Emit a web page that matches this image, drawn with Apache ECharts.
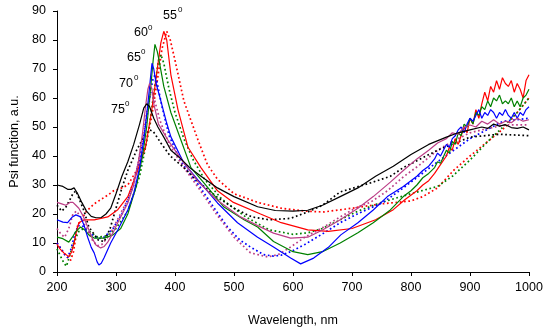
<!DOCTYPE html>
<html>
<head>
<meta charset="utf-8">
<script src="https://cdn.jsdelivr.net/npm/echarts@6/dist/echarts.min.js"></script>
<style>
html,body{margin:0;padding:0;background:#fff;}
#chart{width:550px;height:332px;}
</style>
</head>
<body>
<div id="chart"></div>
<script>
// x ticks / y ticks
const xTicks = [200, 300, 400, 500, 600, 700, 800, 900, 1000];
const yTicks = [0, 10, 20, 30, 40, 50, 60, 70, 80, 90];
const angleLabels = ['55', '60', '65', '70', '75'];

// 55 deg experiment (red solid)
const exp55 = [[200,9.5],[205,8],[212,6.5],[220,5.3],[225,7],[229,10],[233,14],[237,17],[246,18],[263,18],[286,19],[303,21.5],[320,26],[335,34],[345,40],[350,43],[360,55],[368,67],[376,79],[381,83],[386,80],[393,68],[405,56],[422,43],[444,36],[472,28],[499,24],[545,20],[580,17],[625,14.5],[660,14],[700,15],[740,18],[770,21.5],[790,25],[810,28],[820,30],[830,31.5],[840,34],[850,37],[860,40],[865,43],[870,42],[875,46],[880,44],[890,50],[895,48],[900,53],[905,51],[910,56],[915,53],[920,58],[925,62],[930,59],[935,64],[940,62],[945,66],[950,63],[955,67],[960,65],[965,64],[970,66],[975,62],[980,65],[985,63],[990,60],[995,66],[1000,68]];
// 55 deg model (red dotted)
const mod55 = [[200,10],[210,7],[218,5],[223,4],[228,7],[235,16],[241,18],[250,21],[263,23.5],[286,26.5],[296,28],[310,29],[320,30],[335,35],[350,44],[360,53],[370,66],[378,77],[386,83],[392,80],[400,73],[415,59],[439,45.5],[455,37],[472,32],[500,27],[540,24],[580,22],[620,21],[652,20.7],[700,22],[750,23.5],[800,24.5],[820,26],[845,29],[872,35],[900,40],[930,45],[960,50],[980,55],[1000,60]];
// 60 deg experiment (green solid)
const exp60 = [[200,12],[210,11.5],[220,10.3],[226,12],[232,14],[240,15.5],[247,14.5],[254,12.8],[263,11.7],[280,11.7],[295,12.8],[308,15],[320,20],[335,30],[345,40],[352,50],[358,62],[363,73],[366,78.5],[370,76],[373,73],[381,64],[393,55],[410,45.5],[427,36],[449,30.7],[483,22.4],[517,18],[540,15.5],[567,10.5],[600,7],[625,6],[650,7],[680,10],[710,13.5],[736,17],[765,21.4],[787,26],[800,28],[810,30],[820,32.5],[830,34],[840,36],[845,38],[850,37.5],[860,42],[865,41],[870,45],[875,44],[880,48],[885,47],[890,51],[895,50],[900,53],[905,51],[910,55],[915,54],[920,57],[925,56],[930,59],[935,57],[940,60],[945,59],[950,61],[955,58],[960,59],[965,58],[970,60],[975,57],[980,59],[985,57],[990,60],[995,61],[1000,63]];
// 60 deg model (green dotted)
const mod60 = [[200,8],[207,5],[212,3],[216,2],[222,6],[230,11],[237,14],[245,15],[255,14],[269,12],[285,12.5],[300,15],[320,21],[340,33],[355,48],[365,63],[372,73],[376,75],[381,72],[390,63],[400,55],[415,46],[430,39],[450,32],[480,25],[520,19],[560,14.5],[600,13],[625,13.5],[650,15],[680,18],[710,21],[750,24],[800,27],[845,29.5],[870,33],[900,38.6],[930,45],[956,50],[980,55],[1000,60]];
// 65 deg experiment (blue solid)
const exp65 = [[200,18],[210,17.2],[218,17],[226,19],[232,19.7],[240,19],[246,16],[252,12],[258,8.5],[263,6.6],[268,3.5],[271,2.4],[275,3],[280,5],[291,10],[303,14.5],[320,21.4],[330,27],[340,36],[348,47],[354,58],[358,66],[361,72],[364,70],[368,65],[376,59],[385,52],[393,46.6],[415,37.6],[439,31.7],[472,23.8],[506,17],[540,12],[567,8.6],[596,4.8],[613,2.8],[635,4.8],[660,8.5],[681,12.8],[710,17],[736,21.4],[760,26],[787,29.5],[810,33],[820,35],[830,36.5],[840,39],[845,41],[850,40],[860,44],[865,43],[870,46],[875,47],[880,49],[885,50],[890,48],[895,51],[900,53],[905,52],[910,54],[915,56],[920,53],[925,55],[930,54],[935,56],[940,55],[945,53],[950,55],[955,54],[960,56],[965,54],[970,53],[975,55],[980,53],[985,55],[990,54],[995,56],[1000,57]];
// 65 deg model (blue dotted)
const mod65 = [[200,10],[207,8],[213,6],[218,5],[224,8],[230,13],[236,16],[243,16],[252,14],[262,12.5],[270,11.5],[280,12],[295,15],[310,20],[330,30],[345,44],[355,57],[362,66],[366,68],[370,65],[378,57],[390,47],[410,38],[440,30],[470,21],[489,15.5],[510,11],[528,8.6],[550,6],[567,5.5],[580,5.8],[596,7],[620,9.5],[652,13.4],[680,17],[709,20],[753,24],[787,29],[845,38],[900,46],[956,52],[1000,53]];
// 70 deg experiment (magenta solid)
const exp70 = [[200,24],[208,23.5],[215,23],[222,24],[227,24],[232,23],[237,22],[245,19],[252,15.5],[260,11.5],[266,9.3],[274,8.3],[280,8.8],[286,10.3],[295,13.5],[303,17],[320,23.8],[330,30],[338,38],[345,48],[350,57],[354,63],[357,65],[361,63],[364,58],[372,51],[388,45.5],[415,37.6],[440,31],[470,25],[511,19],[540,16],[567,13.4],[596,11.7],[625,12],[650,14.5],[680,18],[710,22],[736,26],[765,31],[787,35],[810,39],[830,42],[845,44.5],[860,46],[870,48],[880,47.5],[890,50],[900,50.7],[910,50],[920,52],[930,51],[940,52.5],[950,51],[960,52],[970,51.5],[980,53],[990,52],[1000,52.5]];
// 70 deg model (magenta dotted)
const mod70 = [[200,15],[207,13],[213,12],[220,15],[227,20],[233,21],[240,19],[250,15],[260,11],[268,9],[276,9.5],[290,13],[305,19],[320,25],[335,35],[345,46],[352,55],[358,61],[362,62],[367,58],[375,52],[390,44],[415,36],[440,29],[470,20],[500,12],[528,6.6],[557,5.2],[575,6],[596,8.6],[620,12],[652,15.5],[680,19],[709,22.4],[731,24],[760,28],[787,32.8],[815,37],[845,42],[870,45],[900,48],[930,49.5],[960,50.7],[1000,50.7]];
// 75 deg experiment (black solid)
const exp75 = [[200,30],[210,29.5],[218,28.5],[224,28.5],[229,29],[235,27],[242,24],[250,21],[258,19.2],[266,18.7],[275,18.8],[283,20],[291,22],[300,27],[310,33],[320,38],[330,44],[340,51],[347,56.5],[352,58],[357,57],[364,53],[371,50],[381,46.5],[393,42],[410,39],[425,36],[444,33],[472,29],[500,26],[540,22.5],[570,21.2],[600,21],[625,21.3],[650,23],[680,26],[710,29],[740,33],[770,36.5],[800,40.5],[830,44],[860,46.5],[880,48],[900,49],[920,50],[930,49.5],[940,51],[950,50.3],[960,50.8],[970,49.8],[980,49.5],[990,50],[1000,49]];
// 75 deg model (black dotted)
const mod75 = [[200,23],[208,21],[215,22.4],[222,25],[227,27],[232,28],[238,25],[246,21],[254,15.5],[263,13],[270,11],[280,10.5],[290,15],[300,22],[310,29],[320,35],[335,42],[348,47],[357,49],[363,48.5],[376,44.5],[392,40],[415,36],[440,31],[470,26],[500,22],[530,19],[560,18],[596,18.5],[625,20.7],[650,23],[680,27.6],[731,30.7],[765,33],[787,36],[845,42],[900,46.5],[950,47.5],[1000,47]];

const colors = ['#FF0000', '#008000', '#0000FF', '#BB3D86', '#000000'];
const expSets = [exp55, exp60, exp65, exp70, exp75];
const modSets = [mod55, mod60, mod65, mod70, mod75];

const series = [];
for (let i = 0; i < 5; i++) {
  series.push({
    type: 'line', data: modSets[i], symbol: 'none', silent: true,
    lineStyle: { color: colors[i], width: 1.7, type: [1.7, 2.6] }, z: 2
  });
  series.push({
    type: 'line', data: expSets[i], symbol: 'none', silent: true,
    lineStyle: { color: colors[i], width: 1.2 }, z: 3
  });
}

const font = 'Liberation Sans, Arial, sans-serif';
const labelPos = [[163, 9.5, 178, 6], [134, 26.5, 148, 23.5], [127, 51.5, 141, 48], [119, 77.5, 134, 74], [111, 103.5, 125, 100]];
const graphic = [];
angleLabels.forEach((t, i) => {
  const p = labelPos[i];
  graphic.push({ type: 'text', left: p[0], top: p[1], style: { text: t, font: '12.5px ' + font, fill: '#000' } });
  graphic.push({ type: 'text', left: p[2], top: p[3], style: { text: '0', font: '8px ' + font, fill: '#000' } });
});

const chart = echarts.init(document.getElementById('chart'), null, { renderer: 'canvas' });
chart.setOption({
  animation: false,
  backgroundColor: '#fff',
  grid: { left: 56, right: 21, top: 11, bottom: 60, containLabel: false },
  xAxis: {
    type: 'value', min: xTicks[0], max: xTicks[xTicks.length - 1], interval: 100,
    name: 'Wavelength, nm', nameLocation: 'middle', nameGap: 42,
    nameTextStyle: { fontFamily: font, fontSize: 12.5, color: '#000' },
    axisLine: { lineStyle: { color: '#000', width: 1 } },
    axisTick: { show: true, inside: false, length: 4, lineStyle: { color: '#000' } },
    axisLabel: { fontFamily: font, fontSize: 12.5, color: '#000', margin: 9, formatter: v => String(v) },
    splitLine: { show: false }
  },
  yAxis: {
    type: 'value', min: yTicks[0], max: yTicks[yTicks.length - 1], interval: 10,
    name: 'Psi function, a.u.', nameLocation: 'middle', nameGap: 36,
    nameTextStyle: { fontFamily: font, fontSize: 12.5, color: '#000' },
    axisLine: { show: true, lineStyle: { color: '#000', width: 1 } },
    axisTick: { show: true, inside: false, length: 4, lineStyle: { color: '#000' } },
    axisLabel: { fontFamily: font, fontSize: 12.5, color: '#000', margin: 11, formatter: v => String(v) },
    splitLine: { show: false }
  },
  graphic: graphic,
  series: series
});
</script>
</body>
</html>
